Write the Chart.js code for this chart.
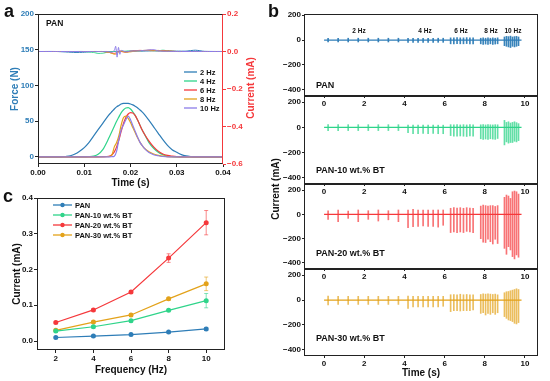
<!DOCTYPE html>
<html>
<head>
<meta charset="utf-8">
<script src="https://cdn.jsdelivr.net/npm/chart.js"></script>
<style>
  body { margin: 0; background: #fff; }
  #wrap { position: relative; width: 550px; height: 381px; overflow: hidden;
          font-family: 'Liberation Sans', Arial, sans-serif; font-weight: bold; }
  canvas { position: absolute; }
  .t { position: absolute; white-space: nowrap; line-height: 1; color: #111; }
  .c { transform: translate(-50%, -50%); }
  .v { transform: translate(-50%, -50%) rotate(-90deg); }
  .m { transform: translateY(-50%); }
</style>
</head>
<body>
<div id="wrap">
  <canvas id="chartA" width="280" height="195" style="left:0;top:0"></canvas>
  <canvas id="chartC" width="280" height="191" style="left:0;top:190px"></canvas>
  <canvas id="chartB1" width="270" height="110" style="left:280px;top:0"></canvas>
  <canvas id="chartB2" width="270" height="108" style="left:280px;top:90px"></canvas>
  <canvas id="chartB3" width="270" height="105" style="left:280px;top:178px"></canvas>
  <canvas id="chartB4" width="270" height="117" style="left:280px;top:263px"></canvas>

  <div class="t" style="left:4px;top:2px;font-size:18px">a</div>
  <div class="t" style="left:268px;top:2px;font-size:18px">b</div>
  <div class="t" style="left:3px;top:187px;font-size:18px">c</div>

  <div class="t" style="left:46px;top:19px;font-size:8.5px">PAN</div>
  <div class="t v" style="left:251px;top:88px;font-size:10px;color:#f5383b">Current (mA)</div>
  <div class="t v" style="left:276px;top:189px;font-size:10px">Current (mA)</div>

  <div class="t m" style="left:316px;top:85px;font-size:9px">PAN</div>
  <div class="t m" style="left:316px;top:170px;font-size:9px">PAN-10 wt.% BT</div>
  <div class="t m" style="left:316px;top:253px;font-size:9px">PAN-20 wt.% BT</div>
  <div class="t m" style="left:316px;top:338px;font-size:9px">PAN-30 wt.% BT</div>

  <div class="t c" style="left:359px;top:31px;font-size:6.5px">2 Hz</div>
  <div class="t c" style="left:425px;top:31px;font-size:6.5px">4 Hz</div>
  <div class="t c" style="left:461px;top:31px;font-size:6.5px">6 Hz</div>
  <div class="t c" style="left:491px;top:31px;font-size:6.5px">8 Hz</div>
  <div class="t c" style="left:513px;top:31px;font-size:6.5px">10 Hz</div>
</div>

<script>
// ---- panel a: force pulses and current response (PAN) ----
const forceTime = [0, 0.005, 0.006, 0.007, 0.008, 0.009, 0.010, 0.011, 0.012, 0.013,
  0.014, 0.015, 0.0155, 0.016, 0.0165, 0.017, 0.0175, 0.018, 0.0185, 0.019,
  0.0195, 0.020, 0.0205, 0.021, 0.0215, 0.022, 0.0225, 0.023, 0.024, 0.025,
  0.026, 0.027, 0.028, 0.029, 0.030, 0.031, 0.032, 0.033, 0.034, 0.040];
const force2Hz = [0, 0, 0.5, 1.5, 4, 8, 13, 20, 29, 38, 47, 56, 60, 63.5, 67, 70, 72, 74, 74.8, 75,
  74.8, 74, 72.8, 71, 68.8, 66, 63, 59.5, 51, 42, 33, 24, 16, 10, 6.5, 3.2, 1.3, 0.4, 0, 0];
const force4Hz = [0, 0, 0, 0, 0, 0, 0, 0.3, 1, 3.5, 10, 22, 29, 36, 43, 50, 56, 62, 66, 68.5,
  69, 67, 63, 58, 52, 45, 38, 32, 20, 12, 6.5, 3, 1.2, 0.4, 0, 0, 0, 0, 0, 0];
const force6Hz = [0, 0, 0, 0, 0, 0, 0, 0, 0, 0, 0.2, 0.5, 1, 3, 7, 14, 24, 36, 47, 55,
  60, 62, 61.5, 58, 52, 45, 38, 32, 22, 14, 8, 4, 2, 1, 0.3, 0, 0, 0, 0, 0];
const force8Hz = [0, 0, 0, 0, 0, 0, 0, 0, 0, 0, 0, 0.2, 0.5, 3, 14, 20, 30, 45, 55, 57,
  54, 48, 41, 34, 27, 21, 16, 12, 7, 4, 2, 1, 0.3, 0, 0, 0, 0, 0, 0, 0];
const force10Hz = [0, 0, 0, 0, 0, 0, 0, 0, 0, 0, 0, 0, 0, 0.3, 1, 8, 25, 38, 45, 52,
  57, 52, 44, 36, 28, 21, 16, 12, 6, 3, 1.5, 0.5, 0, 0, 0, 0, 0, 0, 0, 0];

const currentTime = [0, 0.004, 0.008, 0.010, 0.012, 0.013, 0.014, 0.015, 0.016, 0.0165,
  0.0168, 0.0171, 0.0174, 0.0177, 0.018, 0.019, 0.020, 0.021, 0.022, 0.023,
  0.024, 0.025, 0.026, 0.027, 0.028, 0.030, 0.032, 0.034, 0.036, 0.040];
const current2Hz = [0, 0, -0.005, -0.004, 0, 0, 0, 0, 0, 0, 0, 0, 0, 0, 0, 0, 0, 0.002, 0.002, 0.002,
  0.003, 0.003, 0.003, 0.002, 0.002, 0.002, 0.002, 0.007, 0.001, 0];
const current4Hz = [0, 0, 0, 0, -0.005, -0.01, -0.009, -0.004, 0, 0, 0, 0, 0, 0, 0, 0.002, 0.004, 0.003, 0.004, 0.005,
  0.006, 0.005, 0.004, 0.007, 0.004, 0, 0, 0, 0, 0];
const current6Hz = [0, 0, 0, 0, 0, 0, 0, -0.003, -0.008, -0.01, -0.008, -0.004, 0, 0.003, 0, -0.004, 0.002, 0.004, 0.006, 0.005,
  0.007, 0.006, 0.004, 0.005, 0.003, 0, 0, 0, 0, 0];
const current8Hz = [0, 0, 0, 0, 0, 0, 0, -0.002, -0.01, -0.015, -0.014, -0.01, -0.004, 0.002, 0.002, -0.004, -0.002, 0.002, 0.004, 0.006,
  0.005, 0.004, 0.006, 0.003, 0.002, 0, 0, 0, 0, 0];
const current10Hz = [0, 0, 0, 0, 0, 0, 0, 0, -0.004, 0.006, 0.028, -0.03, 0.022, -0.015, 0.006, -0.002, 0.002, 0.003, 0.004, 0.006,
  0.008, 0.01, 0.004, 0.002, 0.001, 0, 0, 0, 0, 0];
const freqNames = ['2 Hz', '4 Hz', '6 Hz', '8 Hz', '10 Hz'];
const timeTicksA = [0, 0.01, 0.02, 0.03, 0.04];
const forceTicks = [0, 50, 100, 150, 200];
const currentTicksA = [-0.6, -0.4, -0.2, 0, 0.2];

// ---- panel b: current spikes over time ----
const baseTime = [0, 9.83];
const baseCurrent = [0, 0];
const spikeTime = [0.2, 0.7, 1.2, 1.7, 2.2, 2.7, 3.2, 3.7,
  4.18, 4.43, 4.68, 4.93, 5.18, 5.43, 5.68, 5.93,
  6.3, 6.46, 6.62, 6.78, 6.94, 7.1, 7.26, 7.42,
  7.8, 7.92, 8.04, 8.16, 8.28, 8.4, 8.52, 8.64,
  8.98, 9.08, 9.18, 9.28, 9.38, 9.48, 9.58, 9.68];
const panPos = [15, 15, 15, 15, 15, 15, 15, 15, 15, 15, 15, 15, 15, 15, 15, 15,
  18, 18, 20, 18, 18, 20, 18, 18, 15, 18, 15, 18, 15, 18, 15, 18, 25, 30, 28, 32, 25, 28, 30, 25];
const panNeg = [-15, -15, -15, -15, -15, -15, -15, -15, -18, -18, -18, -18, -18, -18, -18, -18,
  -30, -30, -28, -30, -30, -28, -30, -30, -30, -35, -32, -35, -30, -35, -32, -30, -45, -50, -55, -60, -50, -55, -50, -45];
const bt10Pos = [22, 22, 22, 22, 22, 22, 22, 22, 18, 18, 18, 18, 18, 18, 18, 18,
  22, 20, 22, 20, 22, 20, 22, 20, 21, 22, 20, 22, 21, 20, 22, 21, 56, 40, 45, 35, 40, 45, 38, 30];
const bt10Neg = [-25, -25, -25, -25, -25, -25, -25, -25, -42, -50, -50, -48, -50, -48, -50, -50,
  -65, -70, -70, -68, -70, -72, -68, -70, -90, -95, -92, -95, -90, -93, -95, -88, -139, -115, -125, -120, -120, -110, -115, -105];
const bt20Pos = [30, 36, 27, 36, 30, 36, 30, 36, 36, 41, 36, 36, 36, 36, 36, 36,
  50, 55, 52, 55, 50, 55, 52, 50, 68, 77, 72, 68, 72, 72, 65, 72, 140, 159, 151, 131, 186, 192, 186, 167];
const bt20Neg = [-41, -60, -33, -60, -41, -55, -45, -60, -110, -101, -100, -95, -100, -100, -105, -90,
  -150, -145, -150, -145, -150, -140, -145, -150, -200, -230, -232, -205, -225, -244, -205, -240,
  -280, -329, -266, -293, -348, -367, -334, -353];
const bt30Pos = [32, 30, 30, 30, 30, 30, 30, 30, 32, 30, 30, 30, 30, 30, 30, 30,
  43, 45, 43, 47, 43, 45, 43, 42, 45, 50, 48, 50, 48, 45, 48, 42, 59, 67, 69, 75, 80, 85, 91, 85];
const bt30Neg = [-40, -35, -35, -35, -35, -35, -35, -35, -67, -55, -55, -55, -55, -55, -55, -50,
  -93, -85, -85, -88, -85, -85, -85, -80, -107, -102, -120, -107, -115, -102, -115, -102,
  -133, -147, -160, -165, -173, -187, -192, -181];
const timeTicksB = [0, 2, 4, 6, 8, 10];
const currentTicksB = [-400, -200, 0, 200];

// ---- panel c: peak current vs frequency ----
const frequency = [2, 4, 6, 8, 10];
const panMean = [0.010, 0.014, 0.018, 0.025, 0.034];
const panErr = [0.002, 0.002, 0.002, 0.002, 0.004];
const bt10Mean = [0.028, 0.040, 0.057, 0.086, 0.113];
const bt10Err = [0.002, 0.003, 0.003, 0.003, 0.020];
const bt20Mean = [0.052, 0.087, 0.137, 0.232, 0.331];
const bt20Err = [0.003, 0.003, 0.003, 0.012, 0.034];
const bt30Mean = [0.030, 0.053, 0.073, 0.118, 0.160];
const bt30Err = [0.003, 0.003, 0.003, 0.004, 0.019];
const freqTicks = [2, 4, 6, 8, 10];
const currentTicksC = [0, 0.1, 0.2, 0.3, 0.4];

const BLUE = '#2e7db7', GREEN = '#2fd48a', RED = '#f5383b', ORANGE = '#e3a21a', PURPLE = '#8c7ce8';

Chart.defaults.font.family = "'Liberation Sans', Arial, sans-serif";
Chart.defaults.font.size = 8;
Chart.defaults.font.weight = 'bold';
Chart.defaults.color = '#111';

const pts = (xs, ys) => xs.map((x, i) => ({x: x, y: ys[i]}));
const minus = s => s.replace('-', '\u2212');
const fixed = d => v => minus((Math.abs(v) < 1e-9 ? 0 : v).toFixed(d));
const useTicks = arr => s => { s.ticks = arr.map(v => ({value: v})); };

// box around the plot area
const framePlugin = {
  id: 'frame',
  afterDraw(chart, args, opts) {
    const {ctx, chartArea: a} = chart;
    const l = Math.round(a.left) + 0.5, r = Math.round(a.right) - 0.5;
    const t = Math.round(a.top) + 0.5, b = Math.round(a.bottom) - 0.5;
    ctx.save();
    ctx.lineWidth = 1;
    ctx.strokeStyle = '#222';
    ctx.strokeRect(l, t, r - l, b - t);
    if (opts.rightColor) {
      ctx.strokeStyle = opts.rightColor;
      ctx.beginPath(); ctx.moveTo(r, t); ctx.lineTo(r, b); ctx.stroke();
    }
    ctx.restore();
  }
};

// legend drawn inside the plot
const legendPlugin = {
  id: 'inLegend',
  afterDraw(chart, args, opts) {
    if (!opts.x) return;
    const {ctx} = chart;
    ctx.save();
    ctx.font = opts.font;
    ctx.textBaseline = 'middle';
    chart.data.datasets.filter(d => d.inLegend).forEach((ds, i) => {
      const y = opts.y + i * opts.dy;
      ctx.strokeStyle = ds.borderColor;
      ctx.lineWidth = 1.3;
      ctx.beginPath(); ctx.moveTo(opts.x, y); ctx.lineTo(opts.x + opts.len, y); ctx.stroke();
      if (opts.marker) {
        ctx.fillStyle = ds.borderColor;
        ctx.beginPath(); ctx.arc(opts.x + opts.len / 2, y, 2.2, 0, Math.PI * 2); ctx.fill();
      }
      ctx.fillStyle = '#111';
      ctx.fillText(ds.label, opts.x + opts.len + 3, y + 0.5);
    });
    ctx.restore();
  }
};

// vertical error bars for panel c
const errorBarPlugin = {
  id: 'errorBars',
  beforeDatasetsDraw(chart) {
    const {ctx, scales: {x, y}} = chart;
    ctx.save();
    ctx.lineWidth = 1;
    chart.data.datasets.forEach(ds => {
      if (!ds.errors) return;
      ctx.strokeStyle = ds.errColor;
      ds.data.forEach((p, i) => {
        const px = x.getPixelForValue(p.x);
        const hi = y.getPixelForValue(p.y + ds.errors[i]);
        const lo = y.getPixelForValue(p.y - ds.errors[i]);
        ctx.beginPath();
        ctx.moveTo(px, hi); ctx.lineTo(px, lo);
        ctx.moveTo(px - 2, hi); ctx.lineTo(px + 2, hi);
        ctx.moveTo(px - 2, lo); ctx.lineTo(px + 2, lo);
        ctx.stroke();
      });
    });
    ctx.restore();
  }
};

const tickGrid = (color) => ({drawOnChartArea: false, drawTicks: true, tickLength: 3, color: color || '#222'});
const titleFont = {size: 10, weight: 'bold'};

// ---------- panel a ----------
const forceSets = [force2Hz, force4Hz, force6Hz, force8Hz, force10Hz];
const currentSets = [current2Hz, current4Hz, current6Hz, current8Hz, current10Hz];
const aColors = [BLUE, GREEN, RED, ORANGE, PURPLE];
const aDatasets = [];
currentSets.forEach((c, i) => aDatasets.push({
  label: freqNames[i] + ' current', data: pts(currentTime, c), yAxisID: 'y1',
  borderColor: aColors[i], borderWidth: 1, pointRadius: 0, tension: 0.2, order: 5 - i
}));
forceSets.forEach((f, i) => aDatasets.push({
  label: freqNames[i], inLegend: true, data: pts(forceTime, f), yAxisID: 'y',
  borderColor: aColors[i], borderWidth: 1.2, pointRadius: 0, cubicInterpolationMode: 'monotone', order: 10 - i
}));

new Chart(document.getElementById('chartA'), {
  type: 'line',
  data: {datasets: aDatasets},
  plugins: [framePlugin, legendPlugin],
  options: {
    responsive: false, animation: false,
    layout: {padding: {top: 14, left: 0, right: 0, bottom: 0}},
    plugins: {
      legend: {display: false}, tooltip: {enabled: false},
      frame: {rightColor: RED},
      inLegend: {x: 184, y: 72, dy: 9, len: 13, font: "bold 7.5px 'Liberation Sans', Arial, sans-serif"}
    },
    scales: {
      x: {
        type: 'linear', min: 0, max: 0.04,
        ticks: {autoSkip: false, maxRotation: 0, padding: 1, callback: fixed(2)},
        afterBuildTicks: useTicks(timeTicksA),
        grid: tickGrid(), border: {display: false},
        title: {display: true, text: 'Time (s)', font: titleFont, padding: {top: 0, bottom: 6}},
        afterFit: s => { s.height = 31; }
      },
      y: {
        position: 'left', min: -10, max: 200,
        ticks: {autoSkip: false, padding: 1, color: BLUE},
        afterBuildTicks: useTicks(forceTicks),
        grid: tickGrid(), border: {display: false},
        title: {display: true, text: 'Force (N)', color: BLUE, font: titleFont, padding: {top: 9, bottom: 0}},
        afterFit: s => { s.width = 38; }
      },
      y1: {
        position: 'right', min: -0.6, max: 0.2,
        ticks: {autoSkip: false, padding: 1, color: RED, callback: fixed(1)},
        afterBuildTicks: useTicks(currentTicksA),
        grid: tickGrid(RED), border: {display: false},
        afterFit: s => { s.width = 57; }
      }
    }
  }
});

// ---------- panel b ----------
function spikePanel(id, pos, neg, color, fill, yMax, padTop, last) {
  new Chart(document.getElementById(id), {
    type: 'bar',
    data: {
      datasets: [
        {type: 'line', data: pts(baseTime, baseCurrent), borderColor: color, borderWidth: 1.3, pointRadius: 0, order: 0},
        {type: 'bar', data: spikeTime.map((t, i) => ({x: t, y: [neg[i], pos[i]]})),
         backgroundColor: fill, barThickness: 1, order: 1}
      ]
    },
    plugins: [framePlugin],
    options: {
      responsive: false, animation: false,
      layout: {padding: {top: padTop, right: 12, left: 0, bottom: 0}},
      plugins: {legend: {display: false}, tooltip: {enabled: false}},
      scales: {
        x: {
          type: 'linear', offset: false, min: -1, max: 10.65,
          ticks: {autoSkip: false, maxRotation: 0, padding: 1},
          afterBuildTicks: useTicks(timeTicksB),
          grid: Object.assign(tickGrid(), {offset: false, tickLength: 2}), border: {display: false},
          title: {display: last, text: 'Time (s)', font: titleFont, padding: {top: 0, bottom: 1}},
          afterFit: s => { s.height = last ? 24 : 14; }
        },
        y: {
          min: -450, max: yMax,
          ticks: {autoSkip: false, padding: 1, callback: v => minus(String(v))},
          afterBuildTicks: useTicks(currentTicksB),
          grid: Object.assign(tickGrid(), {tickLength: 2}), border: {display: false},
          afterFit: s => { s.width = 24; }
        }
      }
    }
  });
}

spikePanel('chartB1', panPos, panNeg, BLUE, 'rgba(46,125,183,0.95)', 210, 14, false);
spikePanel('chartB2', bt10Pos, bt10Neg, GREEN, 'rgba(47,212,138,0.75)', 250, 6, false);
spikePanel('chartB3', bt20Pos, bt20Neg, RED, 'rgba(245,56,59,0.7)', 250, 6, false);
spikePanel('chartB4', bt30Pos, bt30Neg, ORANGE, 'rgba(227,162,26,0.7)', 250, 6, true);

// ---------- panel c ----------
const cSeries = [
  {label: 'PAN', mean: panMean, err: panErr, color: BLUE, errColor: 'rgba(46,125,183,0.6)'},
  {label: 'PAN-10 wt.% BT', mean: bt10Mean, err: bt10Err, color: GREEN, errColor: 'rgba(47,212,138,0.6)'},
  {label: 'PAN-20 wt.% BT', mean: bt20Mean, err: bt20Err, color: RED, errColor: 'rgba(245,56,59,0.6)'},
  {label: 'PAN-30 wt.% BT', mean: bt30Mean, err: bt30Err, color: ORANGE, errColor: 'rgba(227,162,26,0.6)'}
];

new Chart(document.getElementById('chartC'), {
  type: 'line',
  data: {
    datasets: cSeries.map(s => ({
      label: s.label, inLegend: true, data: pts(frequency, s.mean), errors: s.err, errColor: s.errColor,
      borderColor: s.color, backgroundColor: s.color, borderWidth: 1.2,
      pointRadius: 2.5, pointBorderWidth: 0, tension: 0
    }))
  },
  plugins: [framePlugin, legendPlugin, errorBarPlugin],
  options: {
    responsive: false, animation: false,
    layout: {padding: {top: 8, left: 0, right: 55, bottom: 0}},
    plugins: {
      legend: {display: false}, tooltip: {enabled: false},
      inLegend: {x: 53, y: 15, dy: 10, len: 19, marker: true, font: "bold 7.5px 'Liberation Sans', Arial, sans-serif"}
    },
    scales: {
      x: {
        type: 'linear', min: 1, max: 11,
        ticks: {autoSkip: false, maxRotation: 0, padding: 1},
        afterBuildTicks: useTicks(freqTicks),
        grid: tickGrid(), border: {display: false},
        title: {display: true, text: 'Frequency (Hz)', font: titleFont, padding: {top: 0, bottom: 5}},
        afterFit: s => { s.height = 31; }
      },
      y: {
        min: -0.025, max: 0.4,
        ticks: {autoSkip: false, padding: 1, callback: fixed(1)},
        afterBuildTicks: useTicks(currentTicksC),
        grid: tickGrid(), border: {display: false},
        title: {display: true, text: 'Current (mA)', font: titleFont, padding: {top: 11, bottom: 0}},
        afterFit: s => { s.width = 37; }
      }
    }
  }
});
</script>
</body>
</html>
